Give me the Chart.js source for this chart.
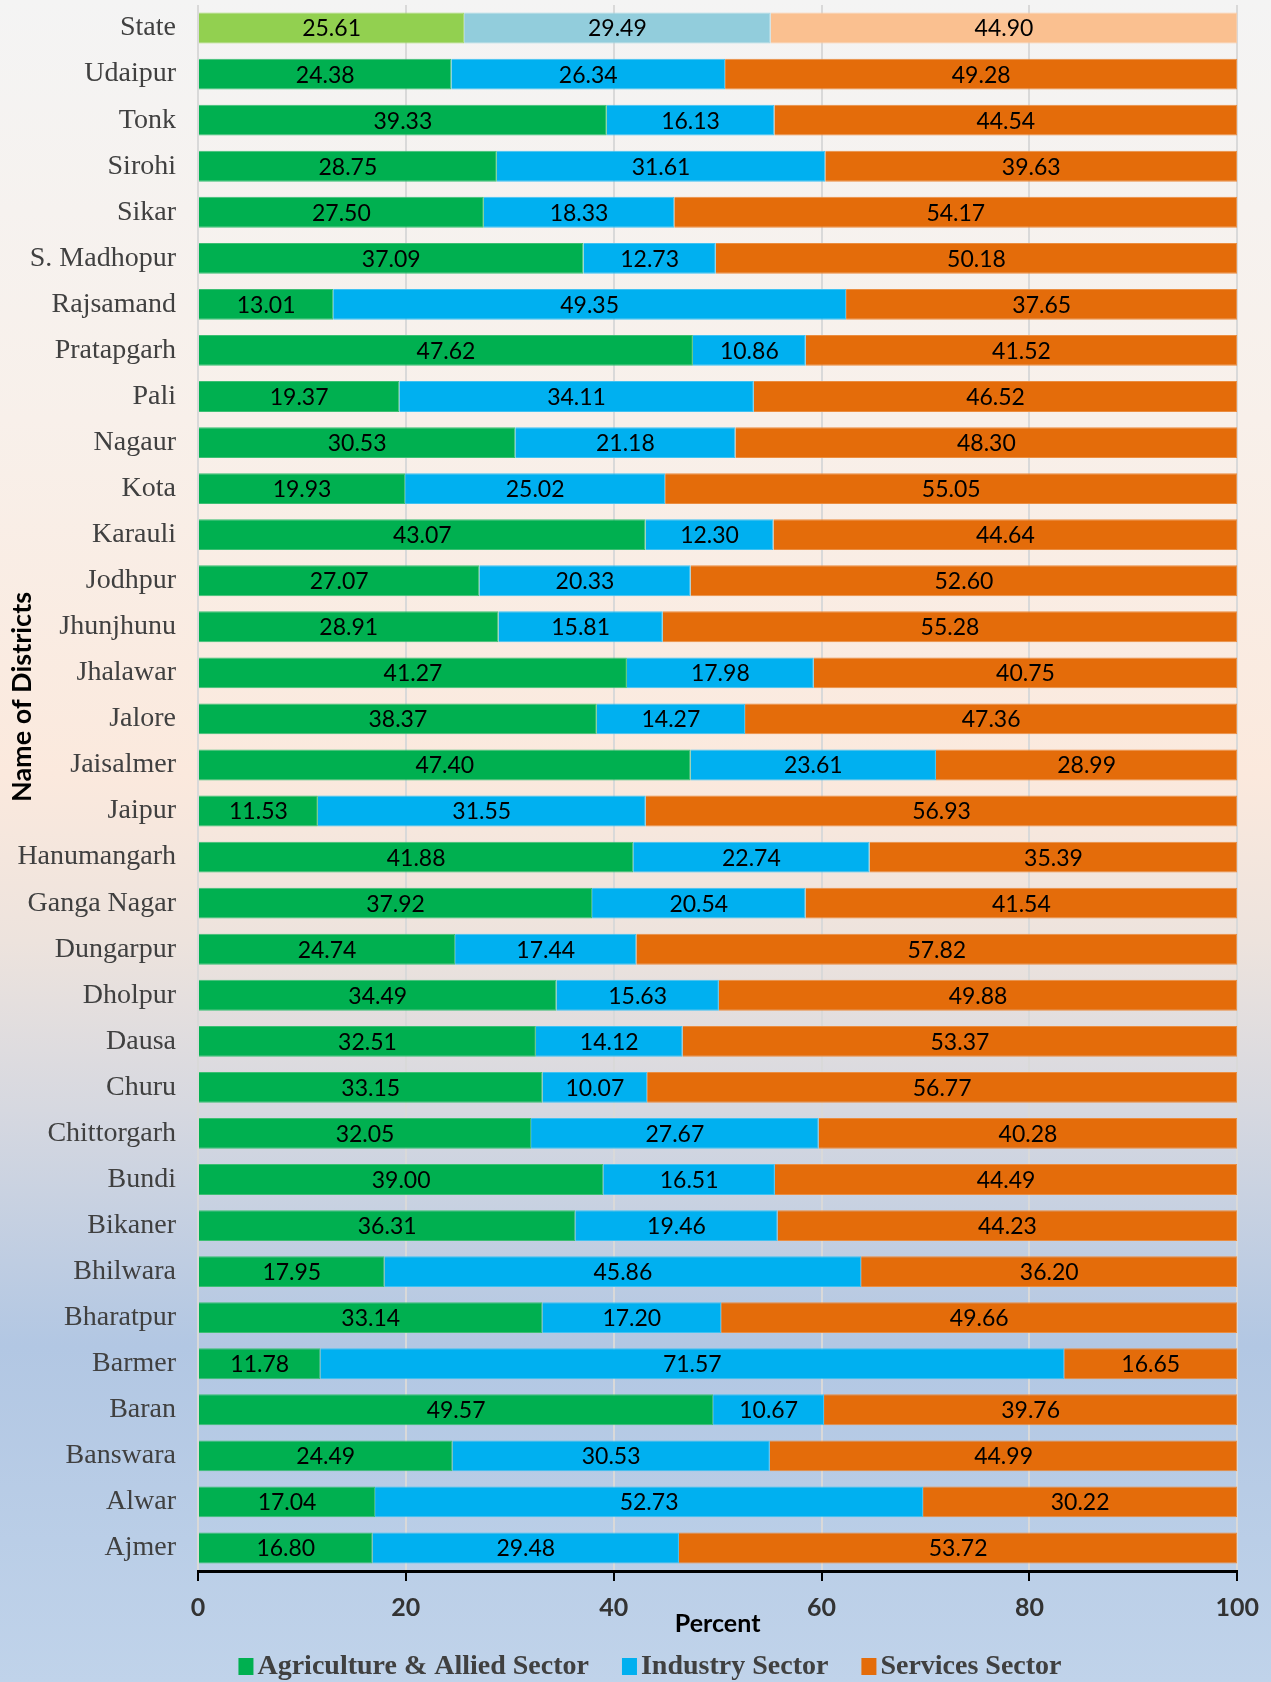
<!DOCTYPE html>
<html>
<head>
<meta charset="utf-8">
<script src="https://cdn.jsdelivr.net/npm/chart.js@4.4.1/dist/chart.umd.min.js"></script>
<style>
  html, body { margin: 0; padding: 0; }
  body {
    width: 1271px; height: 1682px;
    background: linear-gradient(to bottom, #f4f4f4 0%, #f8f0ea 25%, #fbe9dd 46%, #ede3dd 56%, #d6d8e0 66%, #b2c7e3 80%, #c0d3ea 100%);
  }
  #wrap { position: relative; width: 1271px; height: 1682px; }
</style>
</head>
<body>
<div id="wrap"><canvas id="sectorChart"></canvas></div>
<script>
// District-wise share of sectors in GDDP (percent)
const districts = ['State', 'Udaipur', 'Tonk', 'Sirohi', 'Sikar', 'S. Madhopur', 'Rajsamand', 'Pratapgarh',
    'Pali', 'Nagaur', 'Kota', 'Karauli', 'Jodhpur', 'Jhunjhunu', 'Jhalawar', 'Jalore', 'Jaisalmer', 'Jaipur',
    'Hanumangarh', 'Ganga Nagar', 'Dungarpur', 'Dholpur', 'Dausa', 'Churu', 'Chittorgarh', 'Bundi', 'Bikaner',
    'Bhilwara', 'Bharatpur', 'Barmer', 'Baran', 'Banswara', 'Alwar', 'Ajmer'];

const agriculture = [25.61, 24.38, 39.33, 28.75, 27.50, 37.09, 13.01, 47.62, 19.37, 30.53, 19.93, 43.07, 27.07,
    28.91, 41.27, 38.37, 47.40, 11.53, 41.88, 37.92, 24.74, 34.49, 32.51, 33.15, 32.05, 39.00, 36.31, 17.95,
    33.14, 11.78, 49.57, 24.49, 17.04, 16.80];

const industry = [29.49, 26.34, 16.13, 31.61, 18.33, 12.73, 49.35, 10.86, 34.11, 21.18, 25.02, 12.30, 20.33,
    15.81, 17.98, 14.27, 23.61, 31.55, 22.74, 20.54, 17.44, 15.63, 14.12, 10.07, 27.67, 16.51, 19.46, 45.86,
    17.20, 71.57, 10.67, 30.53, 52.73, 29.48];

const services = [44.90, 49.28, 44.54, 39.63, 54.17, 50.18, 37.65, 41.52, 46.52, 48.30, 55.05, 44.64, 52.60,
    55.28, 40.75, 47.36, 28.99, 56.93, 35.39, 41.54, 57.82, 49.88, 53.37, 56.77, 40.28, 44.49, 44.23, 36.20,
    49.66, 16.65, 39.76, 44.99, 30.22, 53.72];

const xTicks = [0, 20, 40, 60, 80, 100];

const sansFont = 'Lato, "Open Sans", sans-serif';
const serifFont = '"Liberation Serif", "Times New Roman", serif';

// the State row is drawn in lighter shades
const shade = (main, light) => districts.map((d, i) => (i === 0 ? light : main));

// values written in the middle of each segment
const barLabels = {
    id: 'barLabels',
    afterDatasetsDraw(chart) {
        const ctx = chart.ctx;
        ctx.save();
        ctx.font = '23px ' + sansFont;
        ctx.fillStyle = '#000';
        ctx.textAlign = 'center';
        ctx.textBaseline = 'middle';
        chart.data.datasets.forEach((ds, di) => {
            const meta = chart.getDatasetMeta(di);
            meta.data.forEach((bar, i) => {
                const cx = (bar.x + bar.base) / 2;
                ctx.fillText(ds.data[i].toFixed(2), cx, bar.y + 1);
            });
        });
        ctx.restore();
    }
};

// axis titles and legend placed like the original (Excel) figure
const extras = {
    id: 'extras',
    afterDraw(chart) {
        const ctx = chart.ctx;
        const area = chart.chartArea;
        ctx.save();
        ctx.fillStyle = '#000';
        ctx.textAlign = 'center';
        ctx.textBaseline = 'middle';

        ctx.font = 'bold 25px ' + sansFont;
        ctx.fillText('Percent', (area.left + area.right) / 2, 1624);

        ctx.save();
        ctx.translate(22, 697);
        ctx.rotate(-Math.PI / 2);
        ctx.font = 'bold 27px ' + sansFont;
        ctx.fillText('Name of Districts', 0, 0);
        ctx.restore();

        // legend
        ctx.font = 'bold 28px ' + serifFont;
        ctx.textAlign = 'left';
        const box = 15, gapText = 4, gapItem = 33, cy = 1666;
        const items = chart.data.datasets.map(ds => ({
            text: ds.label,
            color: ds.backgroundColor[1],
            w: ctx.measureText(ds.label).width
        }));
        const total = items.reduce((s, it) => s + box + gapText + it.w, 0) + gapItem * (items.length - 1);
        let x = 650 - total / 2;
        items.forEach(it => {
            ctx.fillStyle = it.color;
            ctx.fillRect(x, cy - 8, box, 17);
            ctx.fillStyle = '#404040';
            ctx.fillText(it.text, x + box + gapText, cy + 1);
            x += box + gapText + it.w + gapItem;
        });
        ctx.restore();
    }
};

const ctx = document.getElementById('sectorChart').getContext('2d');
new Chart(ctx, {
    type: 'bar',
    data: {
        labels: districts,
        datasets: [{
            label: 'Agriculture & Allied Sector',
            data: agriculture,
            backgroundColor: shade('#00b050', '#92d050'),
            borderColor: shade('#3cbf73', '#a6da70'),
            borderWidth: 1
        }, {
            label: 'Industry Sector',
            data: industry,
            backgroundColor: shade('#00b0f0', '#92cddc'),
            borderColor: shade('#40c2f2', '#a8d7e3'),
            borderWidth: 1
        }, {
            label: 'Services Sector',
            data: services,
            backgroundColor: shade('#e46c0a', '#fac090'),
            borderColor: shade('#eb8d40', '#fbcca6'),
            borderWidth: 1
        }]
    },
    options: {
        indexAxis: 'y',
        responsive: true,
        maintainAspectRatio: false,
        animation: false,
        layout: {
            padding: { top: 5, right: 33, left: 0, bottom: 40 }
        },
        datasets: {
            bar: { categoryPercentage: 1, barPercentage: 0.67 }
        },
        scales: {
            x: {
                stacked: true,
                min: 0,
                max: 100,
                afterBuildTicks(scale) {
                    scale.ticks = xTicks.map(v => ({ value: v }));
                },
                afterFit(scale) {
                    scale.height = 71;
                },
                grid: { color: '#d9d9d9', lineWidth: 2, tickColor: '#000', tickLength: 10 },
                border: { color: '#000', width: 3 },
                ticks: {
                    padding: 12,
                    color: '#333',
                    font: { family: sansFont, size: 25, weight: 'bold' }
                }
            },
            y: {
                stacked: true,
                afterFit(scale) {
                    scale.width = 198;
                    scale.paddingTop = 0;
                    scale.paddingBottom = 0;
                },
                grid: { display: false, drawTicks: false },
                border: { display: false },
                ticks: {
                    padding: 22,
                    color: '#404040',
                    font: { family: serifFont, size: 28 }
                }
            }
        },
        plugins: {
            legend: { display: false },
            tooltip: { enabled: false }
        }
    },
    plugins: [barLabels, extras]
});
</script>
</body>
</html>
